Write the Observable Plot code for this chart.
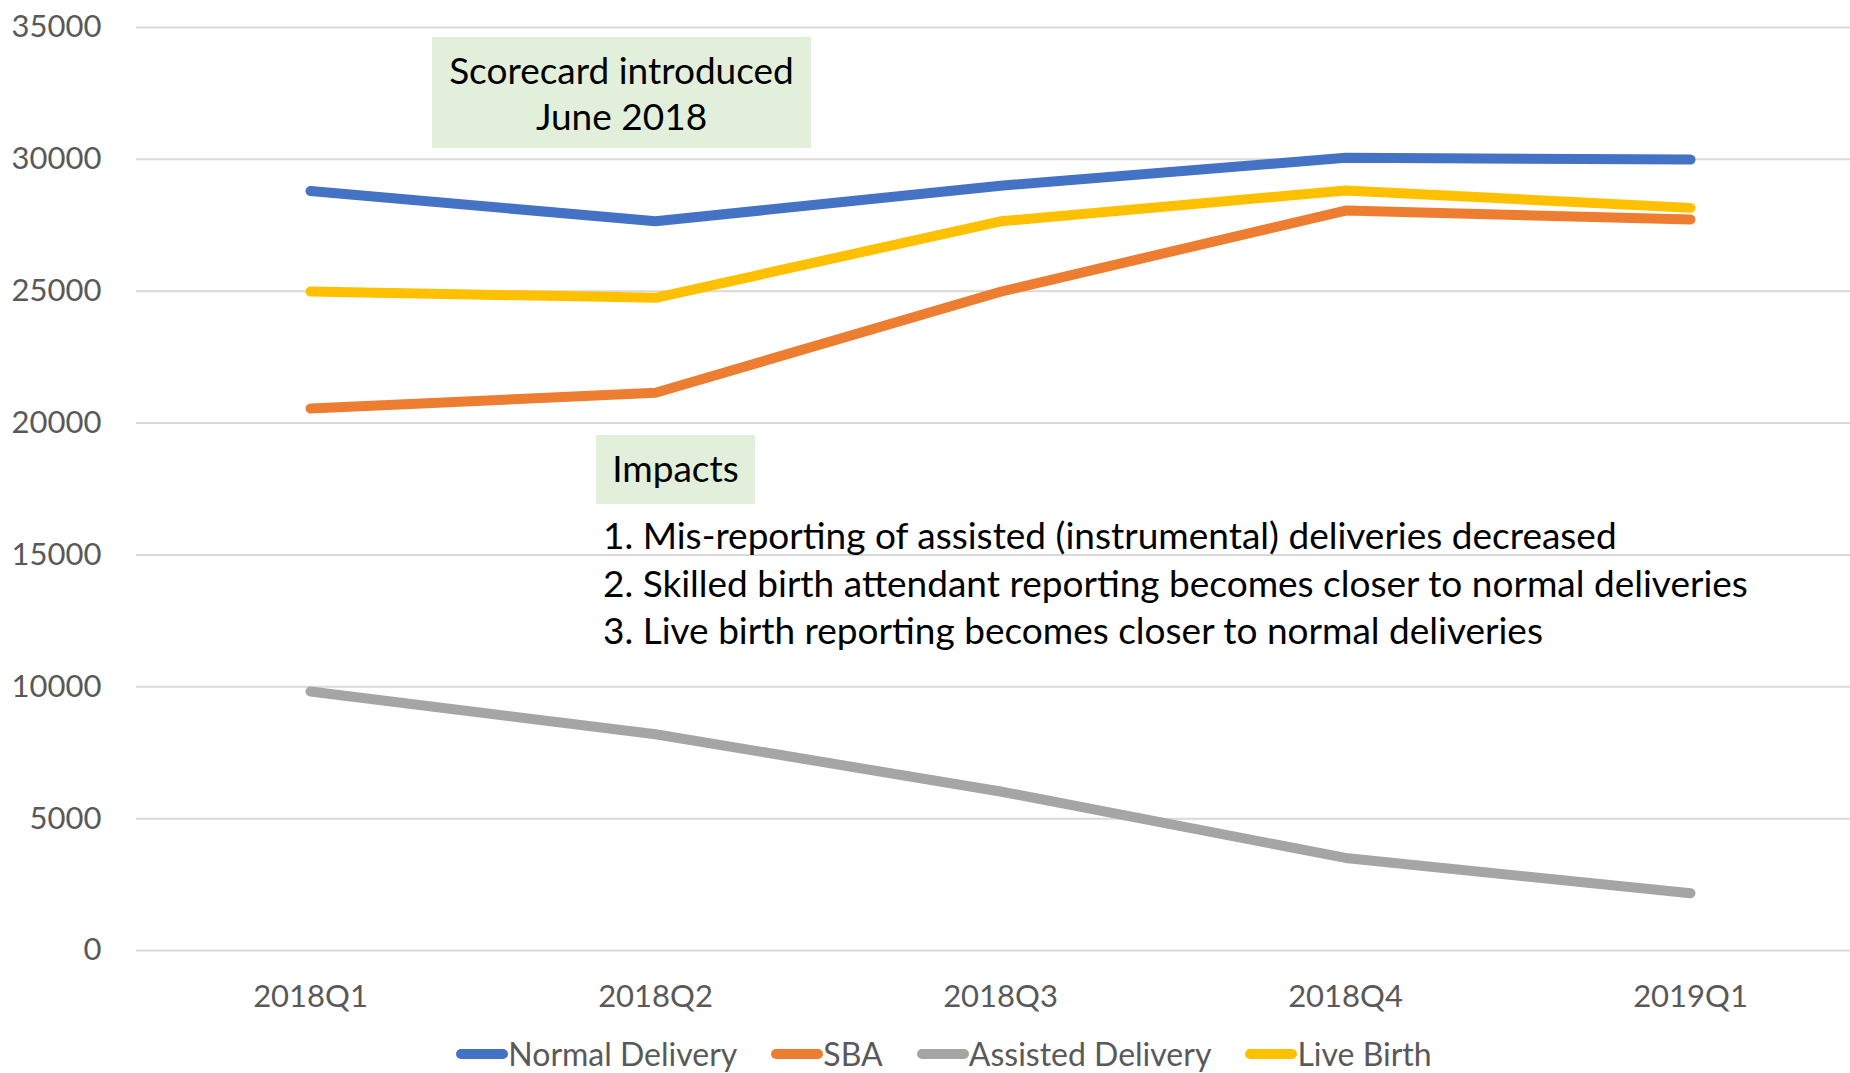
<!DOCTYPE html>
<html>
<head>
<meta charset="utf-8">
<script src="https://cdn.jsdelivr.net/npm/d3@7"></script>
<script src="https://cdn.jsdelivr.net/npm/@observablehq/plot@0.6"></script>
<style>
  html, body { margin: 0; padding: 0; background: white; font-family: Lato, "Open Sans", sans-serif; }
  #wrap { position: relative; width: 1850px; overflow: hidden; }
  .box { position: absolute; background: #E2EFDA; color: #000; text-align: center; }
  .note { position: absolute; color: #000; white-space: nowrap; }
  #legend { display: flex; justify-content: center; align-items: center; height: 53px; padding-top: 14px; padding-left: 38px; box-sizing: content-box; font-size: 32px; color: #595959; width: 1812px; }
  .item { display: flex; align-items: center; margin: 0 17px; }
  .swatch { width: 52px; height: 10px; border-radius: 5px; }
</style>
</head>
<body>
<div id="wrap"></div>
<script>
const quarters = ["2018Q1", "2018Q2", "2018Q3", "2018Q4", "2019Q1"];
const normalDelivery = [28800, 27650, 29000, 30060, 29990];
const sba = [20550, 21150, 24980, 28060, 27720];
const assistedDelivery = [9820, 8200, 6030, 3510, 2170];
const liveBirth = [24990, 24750, 27650, 28820, 28160];
const seriesNames = ["Normal Delivery", "SBA", "Assisted Delivery", "Live Birth"];
const seriesColors = ["#4472C4", "#ED7D31", "#A5A5A5", "#FFC000"];
const yTicks = [0, 5000, 10000, 15000, 20000, 25000, 30000, 35000];
const boxText1 = ["Scorecard introduced", "June 2018"];
const boxText2 = "Impacts";
const impactLines = [
  "1. Mis-reporting of assisted (instrumental) deliveries decreased",
  "2. Skilled birth attendant reporting becomes closer to normal deliveries",
  "3. Live birth reporting becomes closer to normal deliveries"
];

const seriesValues = [normalDelivery, sba, assistedDelivery, liveBirth];
const rows = seriesNames.flatMap((s, i) =>
  quarters.map((q, j) => ({series: s, quarter: q, value: seriesValues[i][j]}))
);

const chart = Plot.plot({
  width: 1850,
  height: 1013,
  marginLeft: 136,
  marginRight: 0,
  marginTop: 27,
  marginBottom: 63,
  style: {fontFamily: "Lato, 'Open Sans', sans-serif", background: "white", overflow: "visible"},
  x: {type: "point", domain: quarters, padding: 0.5, range: [135, 1864], label: null},
  y: {domain: [0, 35000], label: null},
  color: {domain: seriesNames, range: seriesColors},
  marks: [
    Plot.gridY(yTicks, {stroke: "#D9D9D9", strokeOpacity: 1, strokeWidth: 2}),
    Plot.axisY(yTicks, {tickSize: 0, tickPadding: 35, fontSize: 31, fill: "#595959", label: null, tickFormat: d => String(d)}),
    Plot.axisX({tickSize: 0, tickPadding: 34, fontSize: 31, fill: "#595959", label: null}),
    Plot.line(rows, {x: "quarter", y: "value", z: "series", stroke: "series", strokeWidth: 10, strokeLinecap: "round", strokeLinejoin: "round"})
  ]
});

const wrap = document.getElementById("wrap");
wrap.appendChild(chart);

// annotation boxes
const b1 = document.createElement("div");
b1.className = "box";
Object.assign(b1.style, {left: "432px", top: "37px", width: "379px", height: "111px", fontSize: "37px", lineHeight: "46px", paddingTop: "10px", boxSizing: "border-box"});
b1.innerHTML = boxText1.join("<br>");
wrap.appendChild(b1);

const b2 = document.createElement("div");
b2.className = "box";
Object.assign(b2.style, {left: "596px", top: "435px", width: "159px", height: "69px", fontSize: "37px", lineHeight: "66px"});
b2.textContent = boxText2;
wrap.appendChild(b2);

impactLines.forEach((t, i) => {
  const d = document.createElement("div");
  d.className = "note";
  Object.assign(d.style, {left: "603px", top: (511 + i * 47.5) + "px", fontSize: "37px", lineHeight: "48px"});
  d.textContent = t;
  wrap.appendChild(d);
});

// legend
const legend = document.createElement("div");
legend.id = "legend";
seriesNames.forEach((s, i) => {
  const it = document.createElement("div");
  it.className = "item";
  const sw = document.createElement("div");
  sw.className = "swatch";
  sw.style.background = seriesColors[i];
  const tx = document.createElement("span");
  tx.textContent = s;
  it.appendChild(sw);
  it.appendChild(tx);
  legend.appendChild(it);
});
document.body.appendChild(legend);
</script>
</body>
</html>
